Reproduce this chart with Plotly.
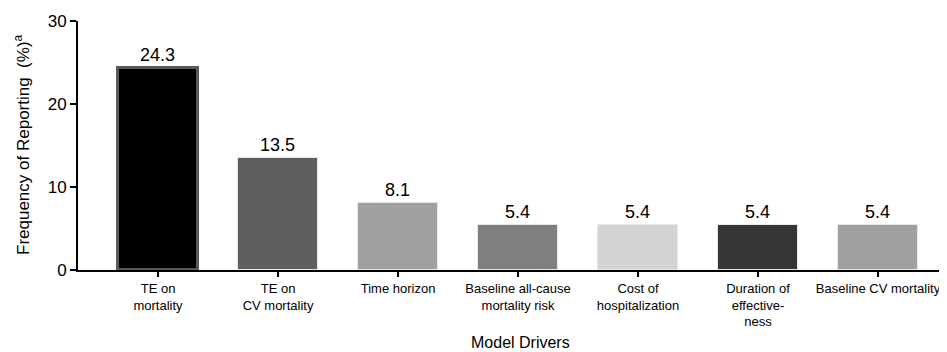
import plotly.graph_objects as go

categories = ["TE on<br>mortality", "TE on<br>CV mortality", "Time horizon",
              "Baseline all-cause<br>mortality risk", "Cost of<br>hospitalization",
              "Duration of<br>effective-<br>ness", "Baseline CV mortality"]
values = [24.3, 13.5, 8.1, 5.4, 5.4, 5.4, 5.4]
colors = ["#000000", "#5f5f5f", "#a0a0a0", "#7f7f7f", "#d3d3d3", "#363636", "#a0a0a0"]
border_colors = ["#5a5a5a", "#e8e8e8", "#e8e8e8", "#e8e8e8", "#e8e8e8", "#e8e8e8", "#e8e8e8"]
border_widths = [3, 1, 1, 1, 1, 1, 1]
y_ticks = [0, 10, 20, 30]

# page offset of the figure div (default body margin)
OFF = 8
W, H = 947 - OFF, 352 - OFF
L, T = 78 - OFF, 21 - OFF
B = H - (270 - OFF)

fig = go.Figure(go.Bar(
    x=list(range(len(categories))), y=values,
    marker=dict(color=colors, line=dict(color=border_colors, width=border_widths)),
    width=0.667,
    text=[f"{v:.1f}" for v in values], textposition="outside",
    textfont=dict(size=18, color="#000"), cliponaxis=False,
))

font = "Liberation Sans, Arial, sans-serif"
pw, ph = W - L, H - T - B
fig.update_layout(
    width=W, height=H,
    margin=dict(l=L, r=0, t=T, b=B),
    plot_bgcolor="white", paper_bgcolor="white",
    font=dict(family=font, color="#000"),
    showlegend=False,
    bargap=0,
    xaxis=dict(
        tickmode="array", tickvals=list(range(len(categories))), ticktext=categories,
        range=[-0.667, 6.575], showline=True, linecolor="#000", linewidth=2,
        ticks="outside", ticklen=5, tickwidth=2, tickcolor="#000",
        tickfont=dict(size=13), showgrid=False, zeroline=False, automargin=False,
    ),
    yaxis=dict(
        range=[0, 30], tickvals=y_ticks, showline=True, linecolor="#000", linewidth=2,
        ticks="outside", ticklen=6, tickwidth=2, tickcolor="#000",
        tickfont=dict(size=17), showgrid=False, zeroline=False, automargin=False,
    ),
    annotations=[
        dict(text="Model Drivers", xref="paper", yref="paper",
             x=(520 - 78) / pw, y=(270 - 342) / ph, xanchor="center", yanchor="middle",
             showarrow=False, font=dict(size=16)),
        dict(text="Frequency of Reporting  (%)<sup>a</sup>", xref="paper", yref="paper",
             x=(22 - 78) / pw, y=(270 - 145) / ph, textangle=-90,
             xanchor="center", yanchor="middle",
             showarrow=False, font=dict(size=17)),
    ],
)
fig.write_html("out.html")
